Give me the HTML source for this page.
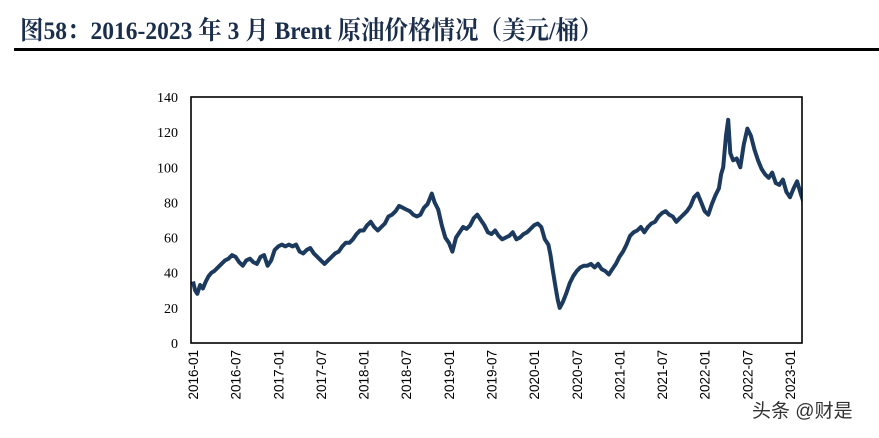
<!DOCTYPE html>
<html><head><meta charset="utf-8"><style>
body{margin:0;background:#fff;width:879px;height:438px;overflow:hidden;position:relative;font-family:"Liberation Serif","Noto Serif CJK SC",serif}
#title{position:absolute;left:20px;top:10px;font-size:23.5px;font-weight:bold;color:#1a2e4c;white-space:nowrap;transform:scaleY(1.08);transform-origin:left top}
#rule{position:absolute;left:14px;top:48px;width:865px;height:3px;background:#000}
#wm{position:absolute;left:752px;top:396px;font-family:"Liberation Sans","Noto Sans CJK SC",sans-serif;font-size:19px;color:#333}
</style></head><body>
<div id="title">图58：2016-2023 年 3 月 Brent 原油价格情况（美元/桶）</div>
<div id="rule"></div>
<svg id="chart" width="879" height="438" style="position:absolute;left:0;top:0"></svg>
<div id="wm">头条 @财是</div>
<script>
const months=[0,0.3,0.6,1,1.4,1.8,2.2,2.6,3,3.5,4,4.5,5,5.5,6,6.5,7,7.5,8,8.5,9,9.5,10,10.5,11,11.5,12,12.5,13,13.5,14,14.5,15,15.5,16,16.5,17,17.5,18,18.5,19,19.5,20,20.5,21,21.5,22,22.5,23,23.5,24,24.5,25,25.5,26,26.5,27,27.5,28,28.5,29,29.5,30,30.5,31,31.5,32,32.5,33,33.3,33.6,34,34.5,35,35.5,36,36.5,37,37.5,38,38.5,39,39.5,40,40.5,41,41.5,42,42.5,43,43.5,44,44.5,45,45.5,46,46.5,47,47.5,48,48.5,49,49.5,50,50.3,50.6,51,51.3,51.6,52,52.5,53,53.5,54,54.5,55,55.5,56,56.5,57,57.5,58,58.5,59,59.5,60,60.5,61,61.5,62,62.5,63,63.5,64,64.5,65,65.5,66,66.5,67,67.5,68,68.5,69,69.5,70,70.5,71,71.5,72,72.5,73,73.5,74,74.3,74.6,75,75.3,75.6,76,76.5,77,77.5,78,78.5,79,79.5,80,80.5,81,81.5,82,82.5,83,83.5,84,84.5,85,85.5,86];
const prices=[35,30,28,33,31,35,38,40,41,43,45,47,48,50,49,46,44,47,48,46,45,49,50,44,47,53,55,56,55,56,55,56,52,51,53,54,51,49,47,45,47,49,51,52,55,57,57,59,62,64,64,67,69,66,64,66,68,72,73,75,78,77,76,75,73,72,73,77,79,82,85,80,76,67,60,57,52,60,63,66,65,67,71,73,70,67,63,62,64,61,59,60,61,63,59,60,62,63,65,67,68,66,59,56,50,42,32,25,20,23,28,34,38,41,43,44,44,45,43,45,42,41,39,42,45,49,52,56,61,63,64,66,63,66,68,69,72,74,75,73,72,69,71,73,75,78,83,85,80,75,73,79,84,88,96,100,118,127,108,104,105,100,113,122,118,110,104,99,96,94,97,91,90,93,86,83,88,92,85,79,80,83,85,82,84,82,85];
const yTicks=[0,20,40,60,80,100,120,140];
const xLabels=["2016-01","2016-07","2017-01","2017-07","2018-01","2018-07","2019-01","2019-07","2020-01","2020-07","2021-01","2021-07","2022-01","2022-07","2023-01"];
const svg=document.getElementById('chart');const NS='http://www.w3.org/2000/svg';
const L=191,R=802,T=97,B=343;
const x0=193,x1=790;
function xs(m){return x0+m*(x1-x0)/84;}
function ys(v){return B-v*(B-T)/140;}
function mk(t,a){const e=document.createElementNS(NS,t);for(const k in a)e.setAttribute(k,a[k]);svg.appendChild(e);return e;}
const clip=mk('clipPath',{id:'c'});
const cr=document.createElementNS(NS,'rect');cr.setAttribute('x',L);cr.setAttribute('y',T);cr.setAttribute('width',R-L);cr.setAttribute('height',B-T);clip.appendChild(cr);
yTicks.forEach(v=>{const t=mk('text',{x:L-13,y:ys(v)+5,'text-anchor':'end','font-size':'14','font-family':'Liberation Serif, serif',fill:'#000'});t.textContent=v;

});
xLabels.forEach((s,i)=>{const x=xs(i*6);const t=mk('text',{transform:`translate(${x+5},350) rotate(-90)`,'text-anchor':'end','font-size':'13.5','font-family':'Liberation Sans, sans-serif',fill:'#000'});t.textContent=s;

});
let d='';months.forEach((m,i)=>{d+=(i?'L':'M')+xs(m).toFixed(1)+','+ys(prices[i]).toFixed(1);});
const p=mk('path',{d:d,fill:'none',stroke:'#1b3a5e','stroke-width':'4','stroke-linejoin':'round','clip-path':'url(#c)'});


const f=mk('rect',{x:L,y:T,width:R-L,height:B-T,fill:'none',stroke:'#000','stroke-width':'1.6'});


</script>
</body></html>
